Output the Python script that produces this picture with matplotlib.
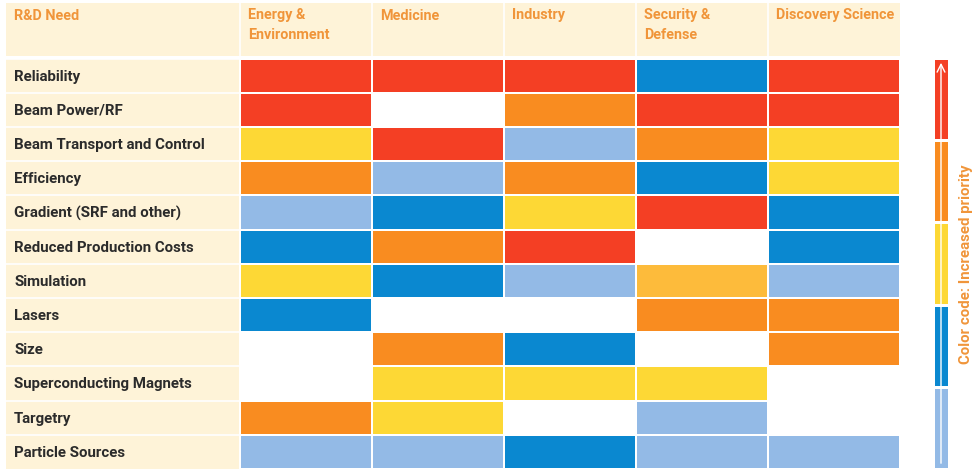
import matplotlib.pyplot as plt
import numpy as np
from matplotlib.colors import ListedColormap, BoundaryNorm

# Data: priority code per cell (0 = none, 1 = light blue ... 6 = red, 4 = amber)
needs = ["Reliability", "Beam Power/RF", "Beam Transport and Control", "Efficiency",
         "Gradient (SRF and other)", "Reduced Production Costs", "Simulation", "Lasers",
         "Size", "Superconducting Magnets", "Targetry", "Particle Sources"]
areas = ["Energy &\nEnvironment", "Medicine", "Industry", "Security &\nDefense", "Discovery Science"]
priority = [
    [6, 6, 6, 2, 6],
    [6, 0, 5, 6, 6],
    [3, 6, 1, 5, 3],
    [5, 1, 5, 2, 3],
    [1, 2, 3, 6, 2],
    [2, 5, 6, 0, 2],
    [3, 2, 1, 4, 1],
    [2, 0, 0, 5, 5],
    [0, 5, 2, 0, 5],
    [0, 3, 3, 3, 0],
    [5, 3, 0, 1, 0],
    [1, 1, 2, 1, 1],
]
legend_levels = [1, 2, 3, 5, 6]

colors = ["#FFFFFF", "#93BAE6", "#0A88D0", "#FDD835", "#FDBB3B", "#F98C20", "#F43F24"]
cmap = ListedColormap(colors)
norm = BoundaryNorm(np.arange(-0.5, 7.5, 1), cmap.N)
cream = "#FEF3D8"
orange_txt = "#F0953A"
dark_txt = "#2B2B2B"
fs = 10.8
fs_head = 10.4

fig = plt.figure(figsize=(9.8, 4.77), dpi=100)
ax = fig.add_axes([0, 0, 1, 1])
ax.set_xlim(0, 980)
ax.set_ylim(477, 0)
ax.axis("off")

# layout (pixels)
x0, lab_right, col_w = 6, 240, 132
y_head, y0, row_h = 4, 59.5, 34.2
x_edges = lab_right + col_w * np.arange(len(areas) + 1)
y_edges = y0 + row_h * np.arange(len(needs) + 1)

# header band
ax.add_patch(plt.Rectangle((x0, y_head), x_edges[-1] - x0, y0 - 3 - y_head, color=cream, lw=0))
for xe in x_edges[:-1]:
    ax.plot([xe, xe], [y_head, y0 - 3], color="white", lw=1.2)
ax.text(14, 9, "R&D Need", color=orange_txt, fontsize=fs_head, fontweight="bold",
        family="Roboto", va="top", ha="left")
for i, a in enumerate(areas):
    ax.text(x_edges[i] + 8, 8.5, a, color=orange_txt, fontsize=fs_head, fontweight="bold",
            family="Roboto", va="top", ha="left", linespacing=1.5)

# row labels
for j, n in enumerate(needs):
    ax.add_patch(plt.Rectangle((x0, y_edges[j]), lab_right - x0, row_h, color=cream, lw=0))
    ax.text(14, y_edges[j] + row_h / 2, n, color=dark_txt, fontsize=fs, fontweight="bold",
            family="Roboto", va="center", ha="left")
    ax.plot([x0, lab_right], [y_edges[j], y_edges[j]], color="white", lw=1.2)

# heatmap cells
ax.pcolormesh(x_edges, y_edges, np.array(priority), cmap=cmap, norm=norm,
              edgecolors="white", linewidth=1.2)

# color code bar
cb_x = np.array([933, 949])
cb_y = np.linspace(470, 59, len(legend_levels) + 1)[::-1]
ax.pcolormesh(cb_x, cb_y, np.array(legend_levels[::-1])[:, None], cmap=cmap, norm=norm,
              edgecolors="white", linewidth=1.0)
ax.annotate("", xy=(941, 61), xytext=(941, 467),
            arrowprops=dict(arrowstyle="->", color="white", lw=1.0, mutation_scale=14))
ax.text(966, 264, "Color code: Increased priority", rotation=90, color=orange_txt,
        fontsize=fs, fontweight="bold", family="Roboto", va="center", ha="center")

fig.savefig("out.png", dpi=100, facecolor="white")
